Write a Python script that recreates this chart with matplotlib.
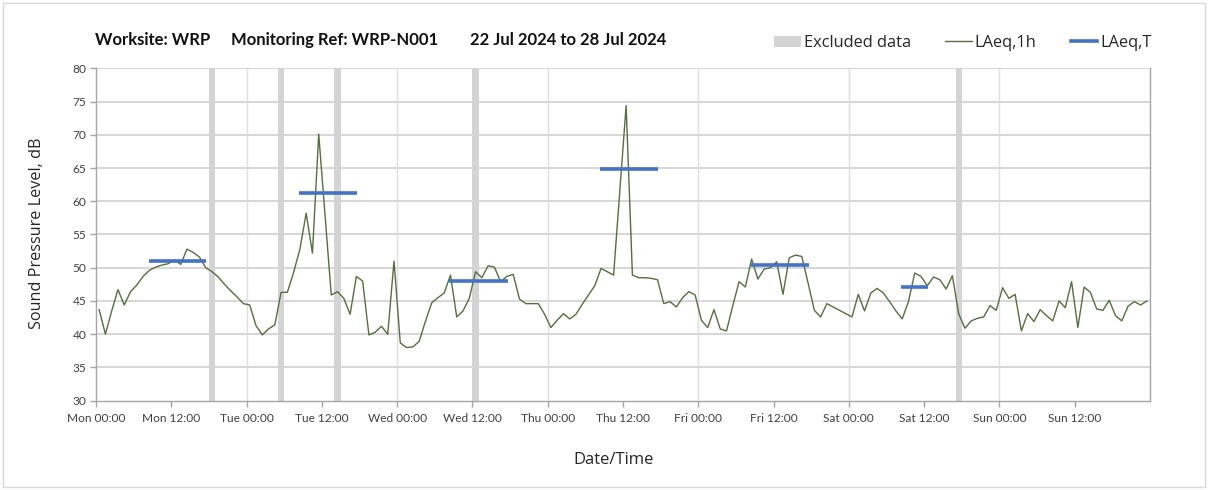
import matplotlib
matplotlib.use("Agg")
import matplotlib.pyplot as plt
from matplotlib.patches import Patch, Rectangle
from matplotlib.lines import Line2D
import numpy as np

plt.rcParams['font.family'] = ['Lato', 'DejaVu Sans']

# ---- data ----
# hourly LAeq,1h values, one per hour starting Mon 00:00
laeq_1h = [
    43.7, 40.0, 43.5, 46.7, 44.4, 46.4, 47.4, 48.7, 49.6, 50.1, 50.4, 50.6,
    51.2, 50.5, 52.8, 52.3, 51.6, 50.0, 49.4, 48.6, 47.5, 46.5, 45.6, 44.6,
    44.4, 41.3, 39.9, 40.8, 41.4, 46.3, 46.3, 49.3, 52.8, 58.2, 52.2, 70.1,
    58.0, 45.9, 46.4, 45.4, 43.0, 48.7, 48.0, 39.9, 40.3, 41.2, 40.0, 51.0,
    38.7, 38.0, 38.1, 38.9, 41.9, 44.7, 45.5, 46.2, 48.9, 42.6, 43.5, 45.4,
    49.4, 48.5, 50.3, 50.1, 47.9, 48.7, 49.0, 45.3, 44.6, 44.6, 44.6, 43.0,
    41.0, 42.1, 43.1, 42.3, 43.0, 44.5, 45.9, 47.3, 49.9, 49.4, 48.9, 61.6,
    74.4, 48.9, 48.5, 48.5, 48.4, 48.2, 44.6, 44.9, 44.1, 45.5, 46.4, 45.9,
    42.1, 41.0, 43.7, 40.8, 40.5, 44.3, 47.9, 47.1, 51.3, 48.3, 49.8, 50.0,
    50.9, 46.0, 51.5, 51.9, 51.7, 47.7, 43.6, 42.6, 44.6, 44.1, 43.6, 43.1,
    42.6, 46.0, 43.5, 46.2, 46.9, 46.2, 44.9, 43.5, 42.3, 44.9, 49.2, 48.7,
    47.3, 48.6, 48.2, 46.8, 48.8, 43.1, 40.9, 42.0, 42.4, 42.6, 44.3, 43.6,
    47.0, 45.4, 46.0, 40.5, 43.1, 41.9, 43.7, 42.8, 42.0, 45.0, 44.0, 47.9,
    41.0, 47.1, 46.3, 43.8, 43.6, 45.1, 42.8, 42.0, 44.2, 44.9, 44.4, 45.0,
]

# LAeq,T periods (hours from Mon 00:00) and levels
laeq_t_start = [8.4, 32.3, 56.3, 80.3, 104.4, 128.3]
laeq_t_end = [17.6, 41.6, 65.6, 89.6, 113.6, 132.6]
laeq_t_value = [51.0, 61.3, 48.0, 64.8, 50.4, 47.1]

# excluded hours (start hour of each excluded 1-hour block)
excluded_hours = [18, 29, 38, 60, 137]

days = ['Mon', 'Tue', 'Wed', 'Thu', 'Fri', 'Sat', 'Sun']
x_tick_labels = [f'{d} {t}' for d in days for t in ('00:00', '12:00')]

# ---- figure ----
W, H = 1208, 490
fig = plt.figure(figsize=(W / 100, H / 100), dpi=100)
ax = fig.add_axes([96 / W, 1 - 400.7 / H, (1150 - 96) / W, (400.7 - 68.3) / H])

# excluded bands
for h in excluded_hours:
    ax.axvspan(h, h + 1, color='#d4d4d4', lw=0, zorder=1)

hours = np.arange(len(laeq_1h)) + 0.5
ax.plot(hours, laeq_1h, color='#566f3e', lw=1.0, zorder=3)

for s, e, v in zip(laeq_t_start, laeq_t_end, laeq_t_value):
    ax.plot([s, e], [v, v], color='#4472c4', lw=2.6, solid_capstyle='butt', zorder=4)

ax.set_xlim(0, 168)
ax.set_ylim(30, 80)
ax.set_yticks(np.arange(30, 81, 5))
ax.set_xticks(np.arange(0, 168, 12))
ax.set_xticklabels(x_tick_labels)

# grid
for yv in np.arange(35, 81, 5):
    ax.axhline(yv, color='#cfcfcf', lw=1.2, zorder=0)
for xv in np.arange(24, 168, 24):
    ax.axvline(xv, color='#dedede', lw=1.0, zorder=0)

ax.spines['top'].set_visible(False)
for side in ['left', 'bottom', 'right']:
    ax.spines[side].set_color('#a6a6a6')
    ax.spines[side].set_linewidth(1.0)

ax.tick_params(axis='both', colors='#a6a6a6', labelcolor='#404040', labelsize=8.6, length=4, width=1)
ax.tick_params(axis='x', pad=5)
ax.tick_params(axis='y', pad=3)

label_font = ['Open Sans', 'DejaVu Sans']
fig.text(614 / W, 1 - 460 / H, 'Date/Time', fontsize=12, color='#262626',
         ha='center', va='center', family=label_font)
fig.text(37 / W, 1 - 233 / H, 'Sound Pressure Level, dB', fontsize=11.7, color='#262626',
         ha='center', va='center', rotation=90, family=label_font)

# title pieces
ty = 1 - 40 / H
tkw = dict(fontsize=12, fontweight='bold', va='center', ha='left', color='#111111')
fig.text(95 / W, ty, 'Worksite: WRP', **tkw)
fig.text(231 / W, ty, 'Monitoring Ref: WRP-N001', **tkw)
fig.text(470 / W, ty, '22 Jul 2024 to 28 Jul 2024', **tkw)

handles = [
    Patch(facecolor='#d4d4d4', edgecolor='none'),
    Line2D([], [], color='#566f3e', lw=1.0),
    Line2D([], [], color='#4472c4', lw=2.6),
]
fig.legend(handles, ['Excluded data', 'LAeq,1h', 'LAeq,T'], loc='center right',
           bbox_to_anchor=(1152 / W, 1 - 43 / H), ncol=3, frameon=False,
           prop={'family': label_font, 'size': 11.8},
           handlelength=1.6, handletextpad=0.2, columnspacing=2.1,
           labelcolor='#262626', borderaxespad=0, borderpad=0)

# outer border
fig.patches.append(Rectangle((3 / W, 3 / H), 1 - 6 / W, 1 - 6 / H, transform=fig.transFigure,
                             fill=False, edgecolor='#d9d9d9', lw=1.0))

fig.savefig('out.png', dpi=100)
